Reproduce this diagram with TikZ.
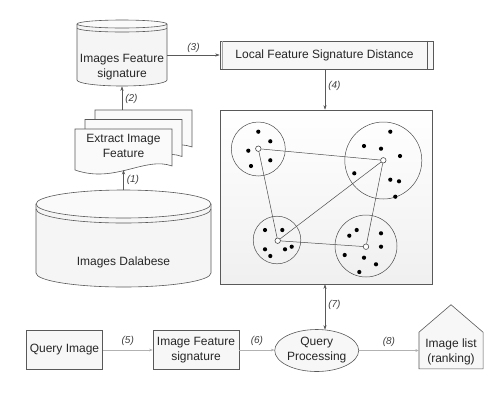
\documentclass[tikz,border=0pt]{standalone}
\usepackage{fontspec}
\setmainfont{Liberation Sans}
\usetikzlibrary{arrows.meta,calc,shapes.geometric}
\begin{document}
\begin{tikzpicture}[x=1pt,y=-1pt,
  line width=0.6pt,
  ln/.style={draw=black!65},
  arr/.style={draw=black!65, -{Stealth[length=4.5pt,width=3.2pt]}},
  darr/.style={draw=black!65, {Stealth[length=4.5pt,width=3.2pt]}-{Stealth[length=4.5pt,width=3.2pt]}},
  larr/.style={draw=black!30, line width=0.45pt, -{Stealth[length=3.5pt,width=2.6pt]}},
  lbl/.style={font=\fontsize{10}{11}\selectfont\itshape, text=black!75, inner sep=1pt},
  txt/.style={font=\fontsize{12}{15}\selectfont, text=black!85, align=center},
  bx/.style={draw=black!65, fill=black!3, txt, inner sep=0pt},
  hole/.style={inner sep=0pt},
  dot/.style={circle, fill=black, inner sep=0pt, minimum size=4.2pt},
  hub/.style={circle, draw=black!70, fill=white, line width=0.6pt, inner sep=0pt, minimum size=5.5pt},
]
\useasboundingbox (0,0) rectangle (492,408);

% ---------- Images Feature signature (cylinder)
\path[fill=black!4, ln] (77,24) -- (77,80) arc[start angle=180,end angle=0,x radius=45,y radius=6] -- (167,24);
\draw[ln, fill=black!2] (122,24) ellipse [x radius=45, y radius=4];
\draw[ln] (77,28) arc[start angle=180,end angle=0,x radius=45,y radius=4];
\node[hole, minimum width=90pt, minimum height=66pt] (ifs) at (122,53) {};
\node[txt] (ifst) at (122,67) {Images Feature\\signature};

% ---------- Local Feature Signature Distance
\node[bx, minimum width=213pt, minimum height=28pt] (lfsd) at (326.5,55) {\hspace*{-4pt}Local Feature Signature Distance};
\draw[draw=black!35] ([xshift=3pt]lfsd.north west) -- ([xshift=3pt]lfsd.south west);
\draw[ln] ([xshift=-6pt]lfsd.north east) -- ([xshift=-6pt]lfsd.south east);

% ---------- Extract Image Feature (multi document)
\foreach \dx/\dy/\nm in {95/110/doc3, 85/119.5/doc2, 75/129/doc1}{
  \begin{scope}[shift={(\dx,\dy)}]
    \path[ln, fill=black!2] (0,0) -- (97,0) -- (97,37) .. controls (70,27) and (40,55) .. (0,41) -- cycle;
    \node[hole, minimum width=97pt, minimum height=41pt] (\nm) at (48.5,20.5) {};
  \end{scope}
}
\node[txt] (eif) at (123.5,146) {Extract Image\\Feature};
\coordinate (docb) at (123.5,170);

% ---------- Images Database (cylinder)
\path[fill=black!4, ln] (36,204) -- (36,273) arc[start angle=180,end angle=0,x radius=87.5,y radius=14] -- (211,204);
\draw[ln, fill=black!2] (123.5,204) ellipse [x radius=87.5, y radius=14];
\draw[ln] (36,209) arc[start angle=180,end angle=0,x radius=87.5,y radius=14];
\node[hole, minimum width=175pt, minimum height=97pt] (db) at (123.5,238.5) {};
\node[txt] (dbt) at (123.5,262) {Images Dalabese};

% ---------- cluster panel
\node[draw=black!65, top color=white, bottom color=black!6, minimum width=212pt, minimum height=174pt, inner sep=0pt] (cl) at (326,197) {};
\draw[draw=black!70, line width=0.5pt] (258.3,149) circle[radius=27];
\draw[draw=black!70, line width=0.5pt] (383.3,160.5) circle[radius=38.5];
\draw[draw=black!70, line width=0.5pt] (277,240) circle[radius=23.8];
\draw[draw=black!70, line width=0.5pt] (366,246) circle[radius=31];
\foreach \p [count=\i] in {(258.3,131.7),(270.3,141.3),(248.3,150.7),(270.3,160.3),(251,166),
  (390.3,131.7),(364,146),(381,148.7),(400,156),(354.3,173.3),(390.3,179.7),(399,181.3),(395.3,196.7),
  (265,230),(282.3,230),(265,249.3),(285,249.3),(291.7,246.7),(270.3,256),
  (356.7,230),(349.3,235.7),(381,233.3),(381,246.7),(344.7,255),(364,257.7),(376,264.3),(359.3,272)}
  {\node[dot] (p\i) at \p {};}
\node[hub] (h1) at (258.3,148.7) {};
\node[hub] (h2) at (383.3,160.3) {};
\node[hub] (h3) at (277.7,240.7) {};
\node[hub] (h4) at (366,246.7) {};
\draw[draw=black!70, line width=0.5pt] (h1) -- (h2) (h1) -- (h3) (h3) -- (h2) (h3) -- (h4) (h4) -- (h2);

% ---------- bottom row
\node[bx, minimum width=76pt, minimum height=39pt] (qi) at (64.5,350) {Query Image};
\node[bx, minimum width=86pt, minimum height=39pt] (ifsig) at (196,350) {Image Feature\\signature};
\node[draw=black!65, fill=black!3, ellipse, minimum width=77pt, minimum height=42pt, inner sep=0pt, txt] (qp) at (316.7,350.5) {Query\\Processing};
\node[hole, minimum width=63.5pt, minimum height=36pt] (il) at (451,350.5) {};
\path[ln, fill=black!3] (il.south west) -- (il.north west) -- ($(il.north)+(0,-27.5)$) -- (il.north east) -- (il.south east) -- cycle;
\node[txt] (ilt) at (451,352) {Image list\\(ranking)};

% ---------- connectors
\coordinate (ax) at (325,0);
\draw[arr] (docb |- db.north) -- node[lbl, right=2pt] {(1)} (docb);
\draw[arr] (doc3.north -| ifs.south) -- node[lbl, right=2pt, pos=0.45] {(2)} (ifs.south);
\draw[arr] (lfsd.west -| ifs.east) -- node[lbl, above=1pt] {(3)} (lfsd.west);
\draw[arr] (lfsd.south -| ax) -- node[lbl, right=2pt, pos=0.4] {(4)} (cl.north -| ax);
\draw[darr] (cl.south -| ax) -- node[lbl, right=2pt, pos=0.45] {(7)} ($(qp.north -| ax)+(0,0.5)$);
\draw[larr] (qi.east) -- node[lbl, above=3pt] {(5)} (ifsig.west);
\draw[larr] (ifsig.east) -- node[lbl, above=3pt] {(6)} (qp.west |- ifsig.east);
\draw[larr] (qp.east) -- node[lbl, above=3pt] {(8)} (il.west);
\end{tikzpicture}
\end{document}
